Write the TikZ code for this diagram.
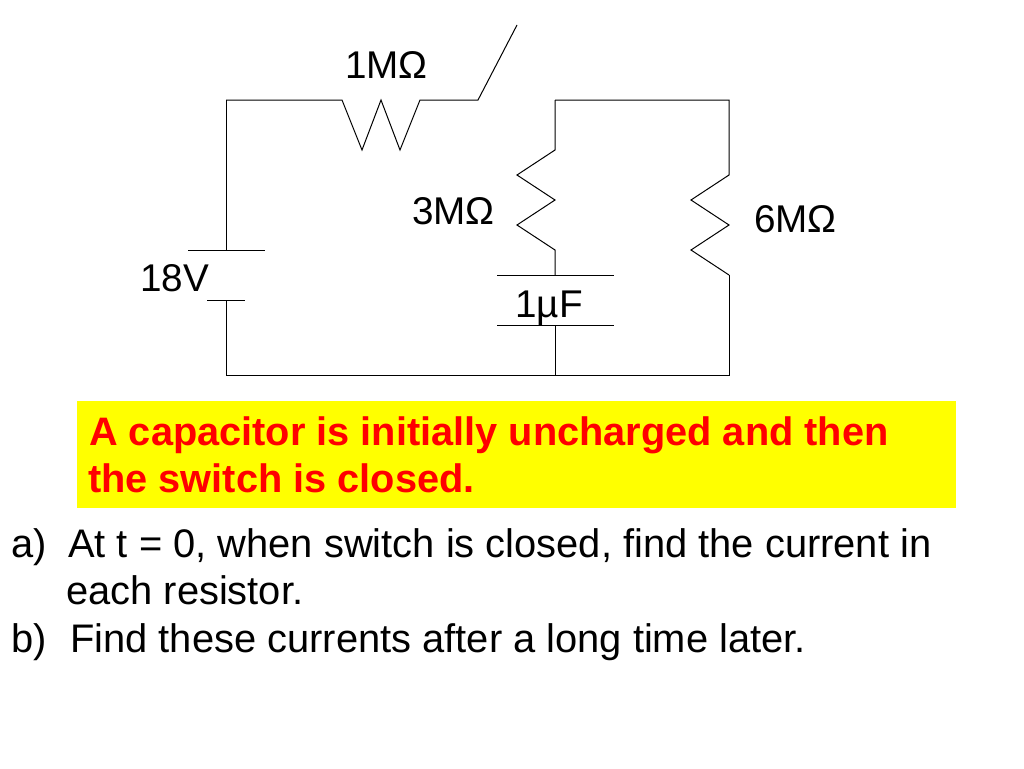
\documentclass[tikz,border=0pt]{standalone}
\usepackage{fontspec}
\setmainfont{Liberation Sans}
\definecolor{noteyellow}{RGB}{255,255,0}
\definecolor{notered}{RGB}{255,0,0}
\tikzset{
    wire/.style={line width=0.75pt, black, line join=miter},
    lbl/.style={anchor=base west, inner sep=0pt, font=\fontsize{29}{34}\selectfont},
    qtxt/.style={lbl, font=\fontsize{29.9}{36}\selectfont},
    notetxt/.style={lbl, text=notered, font=\fontsize{29.8}{36}\selectfont\bfseries}
}
\begin{document}
\begin{tikzpicture}[x=0.75pt, y=-0.75pt]
    \useasboundingbox (0,0) rectangle (1024,768);

    % Corners and terminals
    \coordinate (tl) at (226,100);
    \coordinate (bl) at (226,375);
    \coordinate (br) at (729,375);
    \coordinate (tr) at (729,100);
    \coordinate (tm) at (555,100);
    \coordinate (bm) at (555,375);
    \coordinate (batplus) at (226,250);
    \coordinate (batminus) at (226,300);
    \coordinate (swleft) at (478,100);
    \coordinate (swright) at (517,25);
    \coordinate (capup) at (555,275);
    \coordinate (capdown) at (555,325);

    % Battery
    \draw[wire] (188,250) -- (265,250);
    \draw[wire] (207,300) -- (245,300);
    \draw[wire] (batplus) -- (tl);
    \draw[wire] (batminus) -- (bl) -- (br) -- (729,275);

    % 1M resistor and switch
    \draw[wire] (tl) -- (342,100) -- (362,150) -- (381,100) -- (400,150) -- (420,100) -- (swleft) -- (swright);

    % 3M branch
    \draw[wire] (tm) -- (555,150) -- (517,175) -- (555,200) -- (517,225) -- (555,250) -- (capup);
    \draw[wire] (497,275) -- (614,275);
    \draw[wire] (497,325) -- (614,325);
    \draw[wire] (capdown) -- (bm);

    % 6M branch
    \draw[wire] (tm) -- (tr) -- (729,175) -- (691,200) -- (729,225) -- (691,250) -- (729,275);

    % Labels
    \node[lbl] (rone) at (345,78) {1MΩ};
    \node[lbl] (rthree) at (412,224) {3MΩ};
    \node[lbl] (rsix) at (754,232) {6MΩ};
    \node[lbl] (bat) at (140,291) {18V};
    \node[lbl] (cap) at (515,317) {1µF};

    % Note
    \fill[noteyellow] (77,401) rectangle (956,508);
    \node[notetxt] (noteone) at (89,445) {A capacitor is initially uncharged and then};
    \node[notetxt] (notetwo) at (88,492) {the switch is closed.};

    % Questions
    \node[qtxt] (qa) at (11,557) {a)};
    \node[qtxt] (qatxt) at (68,557) {At t = 0, when switch is closed, find the current in};
    \node[qtxt] (qacont) at (66,604) {each resistor.};
    \node[qtxt] (qb) at (11,652) {b)};
    \node[qtxt] (qbtxt) at (70,652) {Find these currents after a long time later.};
\end{tikzpicture}
\end{document}
